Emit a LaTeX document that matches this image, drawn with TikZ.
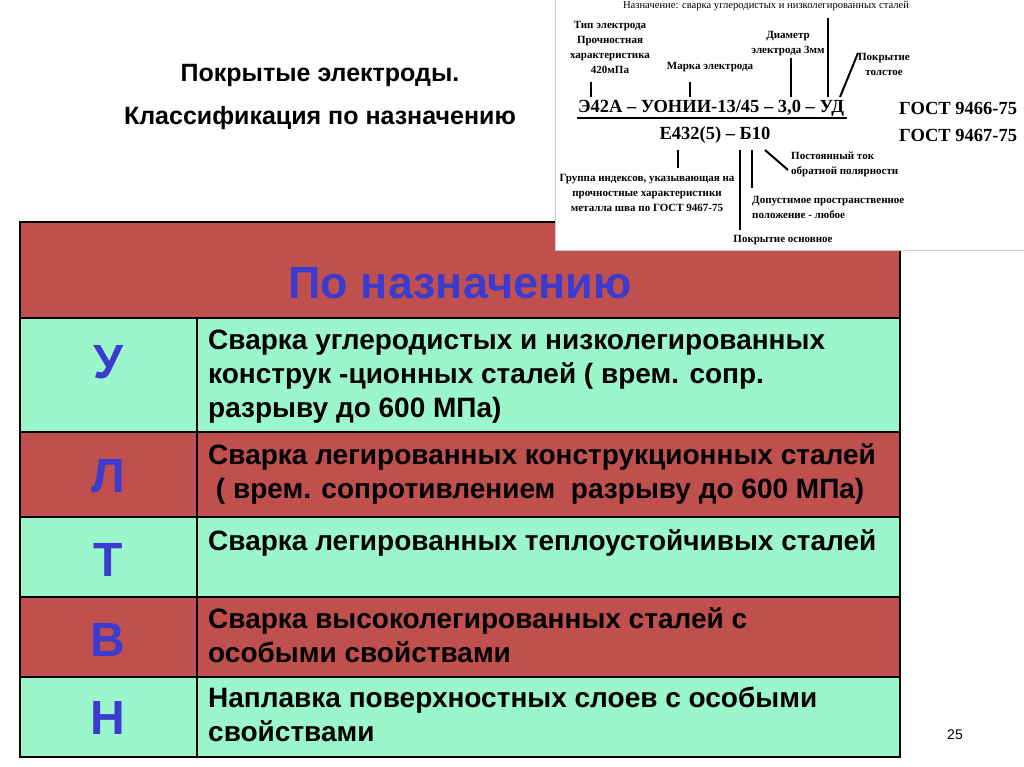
\documentclass[tikz,border=0pt]{standalone}
\usepackage{fontspec}
\setmainfont{Liberation Sans}
\newfontfamily\serifb{Liberation Serif}
\definecolor{rowred}{HTML}{C0504D}
\definecolor{rowgreen}{HTML}{9BF7CB}
\definecolor{letblue}{HTML}{3B3BD0}
\begin{document}
\begin{tikzpicture}[x=1pt,y=-1pt,
  cellbox/.style={draw=black,line width=1.2pt},
  letter/.style={font=\fontsize{48}{48}\selectfont\bfseries,text=letblue},
  desc/.style={anchor=north west,align=left,font=\fontsize{28}{34}\selectfont\bfseries,inner sep=0},
  small/.style={font=\serifb\fontsize{11}{15}\selectfont\bfseries,align=center,inner sep=0},
  big/.style={small,font=\serifb\fontsize{18.5}{18.5}\selectfont\bfseries},
  tick/.style={line width=2pt}]
\useasboundingbox (0,0) rectangle (1024,767);
\fill[white] (0,0) rectangle (1024,767);
% title
\node[font=\fontsize{25}{43}\selectfont\bfseries,align=center] (title) at (320,97) {Покрытые электроды.\\Классификация по назначению};
% table
\fill[rowred] (20,222) rectangle (900,318);
\fill[rowgreen] (20,318) rectangle (900,432);
\fill[rowred] (20,432) rectangle (900,517);
\fill[rowgreen] (20,517) rectangle (900,597);
\fill[rowred] (20,597) rectangle (900,677);
\fill[rowgreen] (20,677) rectangle (900,757);
\foreach \y in {318,432,517,597,677} \draw[line width=1.2pt] (20,\y) -- (900,\y);
\draw[line width=1.2pt] (197,318) -- (197,757);
\draw[cellbox] (20,222) rectangle (900,757);
\node[font=\fontsize{45}{45}\selectfont\bfseries,text=letblue] (hdr) at (460,283) {По назначению};
\node[letter] (l1) at (108,362) {У};
\node[letter] (l2) at (108,476) {Л};
\node[letter] (l3) at (108,560) {Т};
\node[letter] (l4) at (108,640) {В};
\node[letter] (l5) at (108,718) {Н};
\node[desc] (d1) at (208,330) {Сварка углеродистых и низколегированных\\конструк -ционных сталей ( врем. сопр.\\разрыву до 600 МПа)};
\node[desc] (d2) at (208,443) {Сварка легированных конструкционных сталей\\\ ( врем. сопротивлением\ \ разрыву до 600 МПа)};
\node[desc] (d3) at (208,529) {Сварка легированных теплоустойчивых сталей};
\node[desc] (d4) at (208,607) {Сварка высоколегированных сталей с\\особыми свойствами};
\node[desc] (d5) at (208,687) {Наплавка поверхностных слоев с особыми\\свойствами};
\node[font=\fontsize{14}{14}\selectfont] (pg) at (955,735) {25};
% inset picture
\fill[white] (555,0) rectangle (1024,250);
\draw[gray!40,line width=1pt] (555,-2) -- (555,250) -- (1026,250);
\node[small,font=\serifb\fontsize{10.6}{11}\selectfont] (n0) at (766,6) {Назначение: сварка углеродистых и низколегированных сталей};
\node[small] (n1) at (610,47) {Тип электрода\\Прочностная\\характеристика\\420мПа};
\node[small] (n2) at (710,67) {Марка электрода};
\node[small] (n3) at (788,44) {Диаметр\\электрода 3мм};
\node[small] (n4) at (884,64) {Покрытие\\толстое};
\node[big] (m1) at (711,108) {Э42А – УОНИИ-13/45 – 3,0 – УД};
\draw[line width=1.2pt] (577,118) -- (847,118);
\node[big] (m2) at (715,135) {Е432(5) – Б10};
\node[big,anchor=west] (g1) at (899,108) {ГОСТ 9466-75};
\node[big,anchor=west] (g2) at (899,135) {ГОСТ 9467-75};
\draw[tick] (591,82) -- (591,97);
\draw[tick] (690,82) -- (690,97);
\draw[tick] (791,58) -- (791,97);
\draw[tick] (828,18) -- (828,97);
\draw[tick] (858,53) -- (840,97);
\draw[tick] (678,150) -- (678,168);
\draw[tick] (740,150) -- (740,230);
\draw[tick] (752,150) -- (752,188);
\draw[tick] (765,150) -- (788,170);
\node[small,anchor=west,align=left] (b1) at (791,164) {Постоянный ток\\обратной полярности};
\node[small] (b2) at (647,193) {Группа индексов, указывающая на\\прочностные характеристики\\металла шва по ГОСТ 9467-75};
\node[small,anchor=west,align=left] (b3) at (752,207) {Допустимое пространственное\\положение - любое};
\node[small] (b4) at (783,240) {Покрытие основное};
\end{tikzpicture}
\end{document}
